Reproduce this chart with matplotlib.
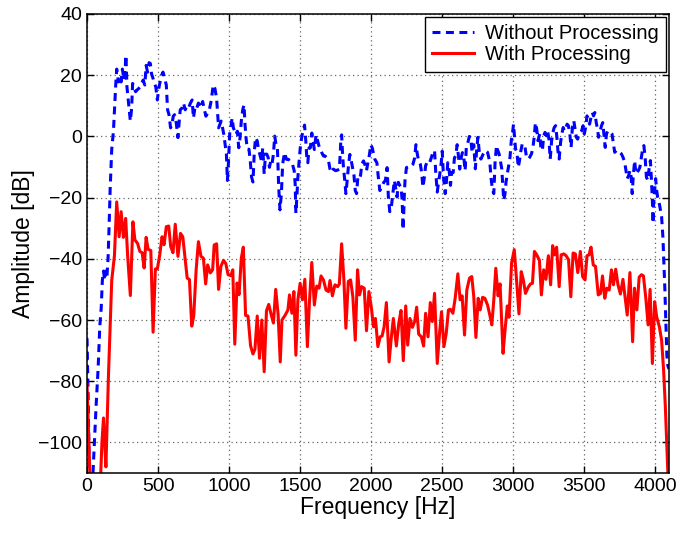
import numpy as np
from matplotlib import pyplot as plt

plt.rcParams['font.family'] = ['Liberation Sans', 'DejaVu Sans']

# (frequency [Hz], amplitude [dB])
without_pts = [
    (0, -66), (8, -85), (16, -110), (40, -112), (52, -100), (64, -88), (78, -76), (90, -62),
    (100, -56), (108, -47), (116, -44), (124, -47), (132, -44), (140, -46), (148, -40), (155, -30),
    (163, -17), (174, -4.2), (186, 1.7), (193, 8.2), (202, 16.8), (209, 22), (221, 17.8), (228, 19.5),
    (240, 17.8), (249, 22), (260, 18.4), (267, 21), (274, 26.5), (281, 16.2), (291, 11.4), (298, 8.2),
    (305, 5), (314, 9.2), (321, 17.3), (333, 15.7), (342, 14.6), (353, 15.2), (365, 15.7), (374, 16.2),
    (384, 17.3), (395, 18.4), (407, 16.8), (416, 23.2), (426, 21), (437, 24.1), (446, 23.8), (454, 20.5),
    (465, 18.9), (474, 17.3), (484, 16.2), (495, 11.9), (505, 15.7), (514, 17.8), (523, 19.8), (535, 21),
    (547, 18.9), (558, 16.8), (567, 8.7), (577, 7.1), (588, 2.8), (598, 3.9), (607, 6.6), (616, 7.1),
    (628, 4.4), (640, -0.4), (647, 3.9), (656, 8.7), (668, 9.2), (679, 10.9), (691, 8.7), (702, 9.8),
    (714, 9.2), (728, 10.9), (740, 11.9), (749, 6), (761, 9.8), (772, 9.2), (784, 10.9), (798, 9.3),
    (814, 11.4), (826, 8.7), (837, 6.6), (849, 7.6), (861, 8.7), (875, 11.9), (888, 16.8), (900, 15.7),
    (912, 12.5), (919, 7.6), (926, 2.8), (935, 3.9), (944, 5), (954, 2.8), (963, 0.6), (972, -2.6),
    (981, -5.8), (988, -14.4), (995, -9), (1005, 1.7), (1012, 2.8), (1021, 6), (1030, 2.8), (1040, 1.7),
    (1049, 0.6), (1058, 1.7), (1068, -3.7), (1077, -0.4), (1086, 5), (1096, 8.7), (1105, 10.3), (1112, 3.9),
    (1119, -0.4), (1128, -4.2), (1140, -4.2), (1149, -8), (1158, -13.3), (1168, -14.9), (1177, -5.3), (1186, -0.4),
    (1198, -1.5), (1207, -4.2), (1216, -5.8), (1228, -8), (1237, -3.7), (1247, -12.3), (1256, -5.8), (1265, -5.8),
    (1275, -6.9), (1284, -10.1), (1293, -8), (1302, -9), (1312, -5.8), (1321, 0.1), (1330, -2.6), (1340, -3.7),
    (1349, -16.5), (1358, -24), (1368, -18.7), (1377, -9), (1390, -5.3), (1404, -7.5), (1418, -7.5), (1432, -8.6),
    (1446, -9.1), (1458, -11.2), (1465, -15.5), (1470, -25.1), (1477, -19.8), (1484, -13.4), (1493, -8), (1502, -3.2),
    (1512, 0), (1521, 2.1), (1531, 3.7), (1540, -1.6), (1547, -7), (1554, -8.6), (1563, -3.7), (1572, -3.7),
    (1582, 1.1), (1591, -1.6), (1600, -4.3), (1612, 0.5), (1624, -1.6), (1633, -3.2), (1642, -4.3), (1652, -5.3),
    (1664, -6.4), (1675, -6.4), (1687, -7), (1698, -7.5), (1710, -10.7), (1720, -11.8), (1734, -10.7), (1750, -11.2),
    (1764, -11), (1776, -10.7), (1783, -4.8), (1787, -0.5), (1792, 0.5), (1797, -4.3), (1804, -9.6), (1813, -13.9),
    (1822, -18.7), (1832, -13.9), (1841, -9.1), (1850, -5.9), (1860, -8), (1869, -10.2), (1879, -12.8), (1888, -17.7),
    (1897, -18.7), (1906, -13.4), (1916, -13.9), (1925, -12.8), (1934, -9.1), (1946, -8), (1955, -9.1), (1967, -11.2),
    (1979, -8), (1988, -5.9), (1997, -2.7), (2007, -3.7), (2026, -7.5), (2040, -8.6), (2049, -12.8), (2061, -17.7),
    (2072, -16.6), (2089, -15), (2100, -14.4), (2112, -10.2), (2121, -19.8), (2131, -24.6), (2142, -23), (2154, -18.2),
    (2163, -14.4), (2173, -17.1), (2182, -19.8), (2191, -15), (2201, -16), (2210, -16.6), (2217, -20.3), (2222, -26.2),
    (2224, -30.5), (2229, -25.1), (2233, -19.3), (2238, -14.4), (2248, -10.2), (2259, -10), (2271, -10.2), (2283, -9.6),
    (2294, -9.1), (2306, -7), (2315, -2.7), (2325, -5.9), (2334, -8), (2346, -9.1), (2355, -11.8), (2364, -16.6),
    (2374, -13.4), (2383, -9.6), (2392, -8.6), (2402, -9.1), (2411, -8.6), (2423, -7), (2434, -5.3), (2446, -4.6),
    (2455, -12.3), (2465, -18.2), (2474, -15), (2483, -12.3), (2493, -8.6), (2500, -4.8), (2509, -13.4), (2521, -18.7),
    (2530, -14.4), (2539, -8.6), (2549, -11.2), (2558, -16), (2567, -11.8), (2577, -11.8), (2586, -7), (2595, -6.4),
    (2605, -2.7), (2614, -6.4), (2623, -10.7), (2633, -7), (2642, -5.3), (2651, -6.4), (2661, -11.2), (2670, -3.2),
    (2680, -2.1), (2691, 0), (2701, -0.5), (2710, -5.3), (2722, -2.7), (2733, -10.6), (2742, -4.6), (2751, -0.3),
    (2761, -5.2), (2772, -7.4), (2789, -5.7), (2803, -4.6), (2819, -5.2), (2835, -8.4), (2844, -13.8), (2854, -17.6),
    (2863, -18.7), (2872, -8.4), (2882, -3), (2891, -4.6), (2900, -5.7), (2909, -7.9), (2919, -10.6), (2926, -15.5),
    (2933, -20.9), (2942, -18.7), (2949, -14.9), (2958, -12.2), (2968, -9.5), (2977, -6.8), (2986, -1.4), (2995, 1.3),
    (3002, 4), (3009, -0.3), (3016, -4.1), (3026, -5.2), (3035, -10.1), (3044, -7.9), (3054, -4.6), (3063, -2.5),
    (3072, -3), (3081, -3), (3093, -6.8), (3105, -7.4), (3116, -6.8), (3128, -5.7), (3137, -4.1), (3147, -0.3),
    (3156, 4.5), (3165, 2.4), (3174, -1.4), (3186, 0.8), (3195, -4.1), (3205, -4.6), (3214, 0.2), (3223, 1.3),
    (3233, 0.2), (3242, 1.8), (3251, -0.9), (3260, -7.4), (3270, -1.4), (3279, 1.3), (3288, 2.9), (3298, 3.5),
    (3307, -0.3), (3314, -4.6), (3323, -7.4), (3333, -1.9), (3342, 0.8), (3351, 2.9), (3360, 1.8), (3370, 2.9),
    (3379, 4), (3388, 3.5), (3398, 0.8), (3407, -3.6), (3416, 2.9), (3426, 5.1), (3435, 2.4), (3444, -0.3),
    (3453, -0.9), (3463, 0.8), (3472, 1.3), (3481, 1.8), (3491, 3.5), (3500, 0.8), (3509, 2.9), (3519, 6.7),
    (3528, 5.6), (3537, 4), (3547, 6.2), (3556, 7.8), (3565, 6.7), (3574, 7.8), (3584, 4.5), (3593, 2.4),
    (3600, -0.3), (3609, 1.3), (3621, 3.5), (3630, 4.5), (3640, -0.3), (3647, -3.6), (3656, 0.8), (3665, 1.8),
    (3677, 1.3), (3686, 1.3), (3695, 0.8), (3705, -2.5), (3714, -5.2), (3726, -4.6), (3737, -4.6), (3749, -5.2),
    (3761, -5.7), (3772, -6.8), (3784, -8.4), (3793, -11.1), (3802, -13.8), (3812, -12.8), (3821, -11.1), (3830, -13.3),
    (3837, -18.7), (3844, -13.3), (3854, -7.9), (3863, -12.2), (3872, -11.7), (3881, -11.1), (3891, -10.1), (3900, -7.4),
    (3909, -4.6), (3919, -3), (3928, -6.8), (3937, -13.3), (3947, -14.4), (3956, -10.6), (3965, -7.9), (3972, -13.8),
    (3979, -20.9), (3984, -28.4), (3988, -21.9), (3995, -17.6), (4002, -13.8), (4009, -17.6), (4016, -19.8), (4030, -22.5),
    (4044, -26.3), (4053, -32.8), (4060, -41.4), (4067, -50), (4074, -60.9), (4081, -71.7), (4088, -75), (4096, -76),
]

with_pts = [
    (0, -81), (10, -95), (20, -110), (35, -112), (95, -112), (105, -100), (116, -92), (124, -100),
    (133, -108), (151, -78), (174, -47), (193, -39), (209, -21.4), (226, -32.8), (240, -24.6), (256, -33),
    (272, -26.8), (286, -39), (305, -52), (323, -27.9), (337, -33.8), (356, -35), (372, -37.6), (388, -38),
    (402, -43), (416, -33), (430, -36.9), (449, -37.3), (465, -64), (481, -43.3), (495, -43.3), (512, -38.7),
    (528, -32.8), (542, -35.4), (558, -29.5), (575, -29.3), (589, -36), (605, -38), (621, -28.7), (640, -39.2),
    (658, -31.7), (674, -32.8), (691, -40.3), (705, -46.3), (721, -46.8), (737, -62), (751, -58.7), (768, -43.6),
    (784, -34.4), (802, -39.2), (819, -39.8), (835, -48.2), (849, -42), (868, -44.6), (884, -43.6), (895, -35.5),
    (912, -35.1), (926, -50), (942, -42.5), (961, -40.5), (977, -41.6), (993, -45.2), (1012, -45.5), (1026, -43.6),
    (1040, -67.9), (1056, -47.9), (1070, -51.7), (1086, -39.8), (1100, -36.2), (1116, -58.5), (1133, -58.7), (1151, -68.4),
    (1168, -71.1), (1182, -69.5), (1198, -58.7), (1214, -72.5), (1230, -60), (1247, -76.9), (1263, -57), (1279, -54.9),
    (1296, -58.2), (1312, -61), (1328, -50), (1345, -58.2), (1360, -73.7), (1372, -60), (1395, -58.4), (1414, -56.7),
    (1425, -51.8), (1442, -57.8), (1456, -50.7), (1470, -71.5), (1484, -53.4), (1500, -48), (1516, -53.4), (1533, -46.7),
    (1551, -68.7), (1565, -54.5), (1582, -41.2), (1600, -55.1), (1617, -48.9), (1633, -49.6), (1647, -45.6), (1664, -46.9),
    (1682, -50.2), (1699, -50.7), (1710, -47.1), (1727, -52.1), (1745, -48.5), (1764, -49.1), (1776, -48.2), (1792, -35.1),
    (1808, -46.9), (1822, -62.7), (1839, -47.4), (1855, -46.9), (1871, -52.4), (1888, -66.6), (1904, -43.6), (1918, -51.8),
    (1932, -49.1), (1951, -49.6), (1967, -63.5), (1984, -50.7), (2002, -56.2), (2016, -62.2), (2030, -59.5), (2047, -68.7),
    (2063, -65.5), (2077, -65.2), (2091, -62.2), (2107, -54.3), (2126, -73.7), (2142, -65.5), (2156, -59.5), (2177, -68.5),
    (2194, -61.1), (2210, -56.9), (2226, -73.3), (2243, -55.4), (2257, -68.2), (2273, -59.5), (2290, -62.4), (2306, -60.5),
    (2320, -55.8), (2334, -64.6), (2353, -65.5), (2369, -68.5), (2383, -57.8), (2400, -65.5), (2416, -54.3), (2430, -60.5),
    (2446, -51.3), (2465, -74.2), (2481, -64.4), (2495, -57.3), (2512, -68.7), (2528, -64.4), (2544, -56.7), (2558, -56.5),
    (2575, -57.8), (2591, -52.9), (2610, -44.9), (2626, -53.4), (2640, -52.1), (2657, -64.9), (2673, -50.2), (2692, -46.3),
    (2708, -45.8), (2722, -52.4), (2737, -65.7), (2753, -52.9), (2767, -56.7), (2784, -52.6), (2800, -52.9), (2819, -55.1),
    (2835, -58.4), (2849, -61.6), (2863, -53.4), (2877, -43.1), (2893, -52.1), (2907, -48.2), (2928, -70.9), (2942, -63.3),
    (2958, -55.4), (2970, -59.1), (2988, -41.4), (3007, -37), (3023, -46.9), (3040, -58), (3056, -44.2), (3070, -46.7),
    (3086, -51.3), (3105, -49.3), (3121, -48.2), (3135, -48), (3149, -37.6), (3165, -38.7), (3184, -40.5), (3198, -51.8),
    (3214, -43.6), (3230, -46.7), (3247, -39), (3263, -48.5), (3277, -35.7), (3291, -38.7), (3305, -36.2), (3323, -49.1),
    (3337, -38.7), (3356, -38.4), (3372, -39), (3389, -40.3), (3405, -52.4), (3421, -38.1), (3437, -38.4), (3454, -44.5),
    (3472, -37.6), (3488, -45.8), (3505, -46.9), (3519, -39), (3533, -38.7), (3547, -36.2), (3563, -42), (3579, -42.5),
    (3598, -51.8), (3614, -51.3), (3628, -45.6), (3644, -52.9), (3658, -49.6), (3675, -50.2), (3691, -43.6), (3705, -48.5),
    (3721, -43.4), (3737, -48.5), (3754, -51.5), (3772, -46.7), (3789, -53.2), (3802, -58.4), (3821, -44.5), (3840, -67.1),
    (3853, -49.6), (3870, -56.7), (3886, -46), (3902, -45.2), (3916, -45.6), (3933, -52.9), (3949, -61.6), (3963, -50),
    (3979, -74.2), (3995, -54), (4009, -58.9), (4028, -62.2), (4044, -66.6), (4058, -76.4), (4070, -88), (4080, -100),
    (4088, -110), (4096, -113),
]

labels = ['Without Processing', 'With Processing']
xticks = np.arange(0, 4001, 500)
yticks = np.arange(-100, 41, 20)

f1, a1 = np.array(without_pts).T
f2, a2 = np.array(with_pts).T

fig = plt.figure(figsize=(6.83, 5.34), dpi=100)
ax = fig.add_axes([0.1274, 0.1142, 0.8521, 0.8596])

ax.plot(f1, a1, color='blue', linestyle='--', dashes=(2.6, 1.8), linewidth=2.2, label=labels[0])
ax.plot(f2, a2, color='red', linewidth=2.2, label=labels[1])

ax.set_xlim(0, 4096)
ax.set_ylim(-110, 40)
ax.set_xticks(xticks)
ax.set_yticks(yticks)
ax.grid(True, linestyle=(0, (1, 2.6)), color='0.4', linewidth=0.9)
ax.tick_params(direction='in', top=True, right=True, length=5, width=1, labelsize=14)
for s in ax.spines.values():
    s.set_linewidth(1.1)

ax.set_xlabel('Frequency [Hz]', fontsize=16.5, labelpad=1)
ax.set_ylabel('Amplitude [dB]', fontsize=16.5, labelpad=2)

leg = ax.legend(loc='upper right', fontsize=14.5, fancybox=False, framealpha=1,
                edgecolor='black', borderaxespad=0.15, handlelength=2.1,
                handletextpad=0.55, borderpad=0.35, labelspacing=0.12)
leg.get_frame().set_linewidth(1.0)

plt.savefig('out.png', dpi=100)
